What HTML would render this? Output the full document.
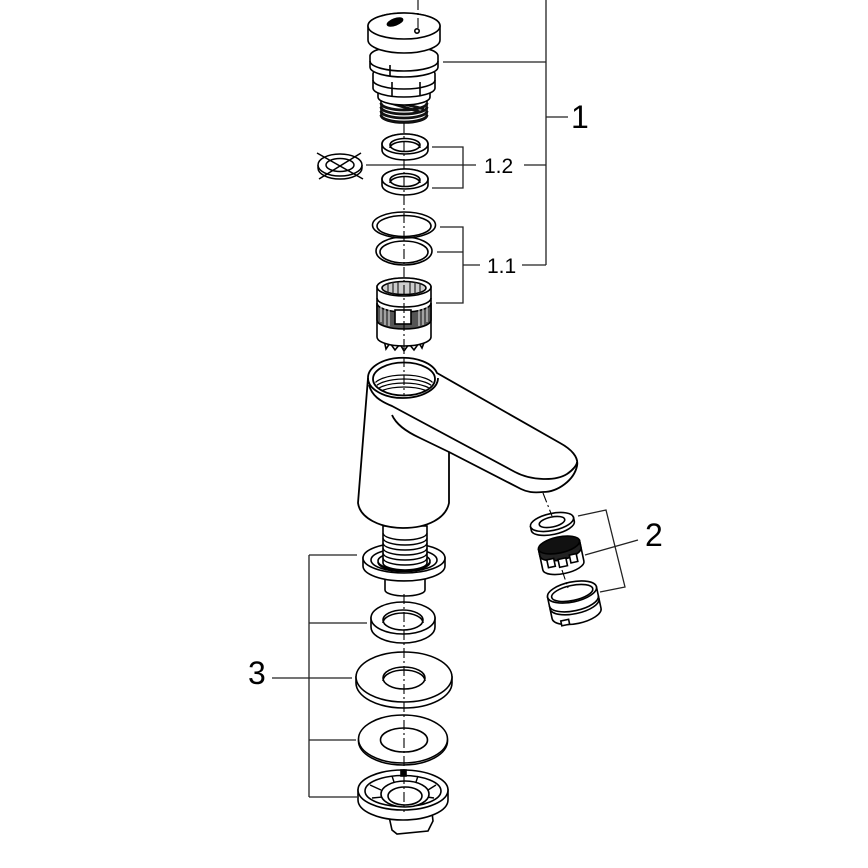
<!DOCTYPE html>
<html>
<head>
<meta charset="utf-8">
<style>
html,body{margin:0;padding:0;background:#fff;}
svg{display:block;}
text{font-family:"Liberation Sans",sans-serif;fill:#000;}
</style>
</head>
<body>
<svg width="868" height="868" viewBox="0 0 868 868" xmlns="http://www.w3.org/2000/svg">
<defs>
  <clipPath id="hole"><ellipse cx="404" cy="380" rx="29" ry="15"/></clipPath>
</defs>
<rect width="868" height="868" fill="#fff"/>

<!-- ============ LEADER LINES ============ -->
<g stroke="#222" stroke-width="1.3" fill="none">
  <line x1="443" y1="62" x2="546" y2="62"/>
  <line x1="546" y1="0" x2="546" y2="265"/>
  <line x1="546" y1="117" x2="568" y2="117"/>
  <polyline points="432,147 463,147 463,188 432,188"/>
  <line x1="366" y1="165" x2="476" y2="165"/>
  <line x1="524" y1="165" x2="546" y2="165"/>
  <polyline points="440,227 463,227 463,303 436,303"/>
  <line x1="437" y1="252" x2="463" y2="252"/>
  <line x1="463" y1="265" x2="480" y2="265"/>
  <line x1="522" y1="265" x2="546" y2="265"/>
  <polyline points="578,516 606,510 625,587 600,592"/>
  <line x1="585" y1="555" x2="638" y2="540"/>
  <line x1="309" y1="555" x2="309" y2="797"/>
  <line x1="309" y1="555" x2="357" y2="555"/>
  <line x1="309" y1="623" x2="367" y2="623"/>
  <line x1="272" y1="678" x2="352" y2="678"/>
  <line x1="309" y1="740" x2="356" y2="740"/>
  <line x1="309" y1="797" x2="357" y2="797"/>
</g>

<text x="571" y="128" font-size="32">1</text>
<text x="484" y="173" font-size="21">1.2</text>
<text x="487" y="273" font-size="21">1.1</text>
<text x="645" y="546" font-size="32">2</text>
<text x="248" y="684" font-size="32">3</text>

<!-- ============ CARTRIDGE ============ -->
<g stroke="#000" stroke-width="1.6" fill="#fff">
  <path d="M381,100 V116 A23,7 0 0 0 427,116 V100 A23,7 0 0 0 381,100 Z"/>
  <g fill="none" stroke="#111" stroke-width="2.8">
    <path d="M381,103 A23,7 0 0 0 427,103"/>
    <path d="M381,107 A23,7 0 0 0 427,107"/>
    <path d="M381,111 A23,7 0 0 0 427,111"/>
    <path d="M381,115 A23,7 0 0 0 427,115"/>
    <path d="M384,101 L420,112 M388,100 L424,109"/>
  </g>
  <path d="M378,90 V97 A26,8 0 0 0 430,97 V90 A26,8 0 0 0 378,90 Z"/>
  <path d="M373,74 V88 A31,9 0 0 0 435,88 V74 A31,9 0 0 0 373,74 Z"/>
  <path d="M373,80 A31,9 0 0 0 435,80" fill="none"/>
  <line x1="392" y1="82" x2="392" y2="96"/>
  <line x1="420" y1="82" x2="420" y2="96"/>
  <path d="M370,56 V67 A34,10 0 0 0 438,67 V56 A34,10 0 0 0 370,56 Z"/>
  <path d="M370,61 A34,10 0 0 0 438,61" fill="none"/>
  <line x1="390" y1="65" x2="390" y2="76"/>
  <path d="M368,26 V40 A36,13 0 0 0 440,40 V26 A36,13 0 0 0 368,26 Z"/>
  <ellipse cx="404" cy="26" rx="36" ry="13"/>
  <ellipse cx="395" cy="22" rx="8" ry="3" fill="#000" transform="rotate(-20 395 22)"/>
  <circle cx="417" cy="31" r="2.2"/>
</g>

<!-- ============ WASHERS 1.2 ============ -->
<g stroke="#000" stroke-width="1.6" fill="#fff">
  <path d="M382,144 V150 A23,10 0 0 0 428,150 V144 A23,10 0 0 0 382,144 Z"/>
  <ellipse cx="405" cy="144" rx="23" ry="10"/>
  <ellipse cx="405" cy="145" rx="15" ry="6.5"/>
  <path d="M390,148 A15,6.5 0 0 1 420,148" fill="none"/>

  <path d="M382,179 V185 A23,10 0 0 0 428,185 V179 A23,10 0 0 0 382,179 Z"/>
  <ellipse cx="405" cy="179" rx="23" ry="10"/>
  <ellipse cx="405" cy="180" rx="15" ry="6.5"/>
  <path d="M390,183 A15,6.5 0 0 1 420,183" fill="none"/>
</g>
<g stroke="#000" stroke-width="1.5" fill="none">
  <path d="M318,165 V168 A22,11 0 0 0 362,168 V165"/>
  <ellipse cx="340" cy="165" rx="22" ry="11" fill="#fff"/>
  <ellipse cx="340" cy="165" rx="14" ry="6.5"/>
  <line x1="317" y1="153" x2="363" y2="179"/>
  <line x1="361" y1="153" x2="319" y2="179"/>
</g>

<!-- ============ O-RINGS 1.1 ============ -->
<g stroke="#000" stroke-width="1.6" fill="none">
  <ellipse cx="404" cy="251" rx="28" ry="14"/>
  <ellipse cx="404" cy="252" rx="24" ry="11"/>
  <ellipse cx="404" cy="225" rx="31.5" ry="13"/>
  <ellipse cx="404" cy="226" rx="27" ry="10.5"/>
</g>

<!-- ============ SLEEVE ============ -->
<g stroke="#000" stroke-width="1.6" fill="#fff">
  <path d="M384,340 L386,349 L390,343 L395,350 L400,344 L404,351 L409,344 L414,350 L419,343 L422,348 L425,340 Z" fill="#fff"/>
  <path d="M377,287 V337 A27,9 0 0 0 431,337 V287 A27,9 0 0 0 377,287 Z"/>
  <path d="M377,303 A27,9 0 0 0 431,303 V320 A27,9 0 0 1 377,320 Z" fill="#555"/>
  <g stroke="#fff" stroke-width="0.9">
    <line x1="381" y1="306" x2="381" y2="322"/>
    <line x1="385" y1="308" x2="385" y2="325"/>
    <line x1="389" y1="309" x2="389" y2="326"/>
    <line x1="419" y1="309" x2="419" y2="326"/>
    <line x1="423" y1="308" x2="423" y2="325"/>
    <line x1="427" y1="306" x2="427" y2="322"/>
  </g>
  <rect x="395" y="310" width="16" height="14" fill="#fff"/>
  <path d="M377,298 A27,9 0 0 0 431,298" fill="none"/>
  <ellipse cx="404" cy="287" rx="27" ry="9"/>
  <ellipse cx="404" cy="288" rx="22" ry="6.5" fill="#ccc"/>
  <g stroke="#222" stroke-width="1.2">
    <line x1="388" y1="283" x2="388" y2="293"/>
    <line x1="393" y1="282" x2="393" y2="294"/>
    <line x1="398" y1="282" x2="398" y2="294"/>
    <line x1="410" y1="282" x2="410" y2="294"/>
    <line x1="415" y1="282" x2="415" y2="294"/>
    <line x1="420" y1="283" x2="420" y2="293"/>
  </g>
</g>

<!-- ============ THREAD STUB / FLANGE ============ -->
<g stroke="#000" stroke-width="1.6" fill="#fff">
  <path d="M385,578 V590 A20,6 0 0 0 425,590 V578 Z"/>
  <path d="M363,558 V566 A41,15 0 0 0 445,566 V558 Z"/>
  <ellipse cx="404" cy="558" rx="41" ry="15"/>
  <ellipse cx="404" cy="560" rx="33" ry="11.5"/>
  <ellipse cx="404" cy="561" rx="26" ry="9"/>
  <path d="M383,526 V563 A22,7 0 0 0 427,563 V526 Z"/>
  <g fill="none" stroke-width="1.4">
    <path d="M383,533 A22,7 0 0 0 427,533"/>
    <path d="M383,538 A22,7 0 0 0 427,538"/>
    <path d="M383,543 A22,7 0 0 0 427,543"/>
    <path d="M383,548 A22,7 0 0 0 427,548"/>
    <path d="M383,553 A22,7 0 0 0 427,553"/>
    <path d="M383,558 A22,7 0 0 0 427,558"/>
  </g>
  <path d="M378,562 A26,9 0 0 0 430,562" fill="none"/>
</g>

<!-- ============ FAUCET BODY ============ -->
<g stroke="#000" stroke-width="1.8" fill="#fff" stroke-linejoin="round">
  <path d="M368,378 A35,20 0 0 1 437,373 L560,443 C571,449 579,457 577,466 C574,480 558,492 543,492 C533,493 527,492 521,489 L449,452 L449,503 C446,518 428,528 403,528 C380,528 360,518 358,503 L363,440 Z"/>
  <path d="M368,378 A35,20 0 0 0 438,378" fill="none"/>
  <ellipse cx="404" cy="379" rx="31" ry="16.5"/>
  <g clip-path="url(#hole)" fill="none" stroke-width="1.3">
    <path d="M374,386 A30,11 0 0 1 434,386"/>
    <path d="M374,390 A30,11 0 0 1 434,390"/>
    <path d="M374,394 A30,11 0 0 1 434,394"/>
    <path d="M374,398 A30,11 0 0 1 434,398"/>
  </g>
  <path d="M369,385 C372,396 380,401 392,406 L515,472 C532,481 556,481 567,474 C573,470 577,465 577,462" fill="none"/>
  <path d="M449,452 L420,438 C405,431 396,424 392,415" fill="none"/>
</g>

<!-- ============ LOWER WASHERS & NUT ============ -->
<g stroke="#000" stroke-width="1.6" fill="#fff">
  <path d="M371,618 V627 A32,16 0 0 0 435,627 V618 Z"/>
  <ellipse cx="403" cy="618" rx="32" ry="16"/>
  <ellipse cx="403" cy="620" rx="20" ry="10"/>
  <path d="M383,623 A20,10 0 0 1 423,623" fill="none"/>
  <path d="M356,677 V683 A48,25 0 0 0 452,683 V677 Z"/>
  <ellipse cx="404" cy="677" rx="48" ry="25"/>
  <ellipse cx="404" cy="678" rx="21" ry="11"/>
  <path d="M383,681 A21,11 0 0 1 425,681" fill="none"/>
  <ellipse cx="403" cy="741" rx="44.5" ry="24"/>
  <ellipse cx="403" cy="739" rx="44.5" ry="24"/>
  <ellipse cx="404" cy="740" rx="23.5" ry="12"/>
  <polygon points="388,812 392,830 397,834 428,831 433,821 432,812"/>
  <path d="M358,790 V800 A45,20 0 0 0 448,800 V790 Z"/>
  <ellipse cx="403" cy="790" rx="45" ry="20"/>
  <ellipse cx="403" cy="791" rx="38" ry="15.5"/>
  <g stroke-width="1.4">
    <line x1="370" y1="785" x2="381" y2="790"/>
    <line x1="372" y1="798" x2="383" y2="797"/>
    <line x1="436" y1="785" x2="428" y2="790"/>
    <line x1="434" y1="798" x2="427" y2="797"/>
    <line x1="392" y1="776" x2="394" y2="782"/>
    <line x1="418" y1="776" x2="416" y2="782"/>
    <line x1="392" y1="806" x2="393" y2="802"/>
    <line x1="416" y1="806" x2="415" y2="802"/>
  </g>
  <ellipse cx="405" cy="794" rx="24" ry="13"/>
  <ellipse cx="405" cy="796" rx="17" ry="9"/>
  <rect x="401" y="770" width="5" height="6" fill="#000"/>
</g>

<!-- ============ AERATOR GROUP 2 ============ -->
<g stroke="#000" stroke-width="1.6" fill="#fff">
  <g transform="rotate(-12 572 592)">
    <path d="M547,592 V614 A25,10 0 0 0 597,614 V592 Z"/>
    <path d="M547,601 A25,10 0 0 0 597,601" fill="none"/>
    <path d="M547,604 A25,10 0 0 0 597,604" fill="none"/>
    <ellipse cx="572" cy="592" rx="25" ry="10"/>
    <ellipse cx="572" cy="593" rx="21" ry="7.5"/>
    <rect x="555" y="618" width="8" height="5"/>
  </g>
  <g transform="rotate(-12 559 545)">
    <path d="M538,545 V566 A21,8 0 0 0 580,566 V545 Z"/>
    <path d="M538,545 V552 A21,8 0 0 0 580,552 V545 Z" fill="#222"/>
    <ellipse cx="559" cy="545" rx="21" ry="8" fill="#111"/>
    <rect x="544" y="557" width="7" height="8"/>
    <rect x="555" y="559" width="8" height="8"/>
    <rect x="567" y="557" width="7" height="8"/>
  </g>
  <g transform="rotate(-12 552 522)">
    <path d="M530,522 V526 A22,8.5 0 0 0 574,526 V522 Z"/>
    <ellipse cx="552" cy="522" rx="22" ry="8.5"/>
    <ellipse cx="552" cy="522" rx="13" ry="5"/>
  </g>
</g>

<!-- ============ AXES ============ -->
<g stroke="#000" stroke-width="1.1" fill="none" stroke-dasharray="10 3 2 3">
  <line x1="418" y1="0" x2="418" y2="29"/>
  <line x1="404" y1="123" x2="404" y2="395"/>
  <line x1="404" y1="594" x2="404" y2="812"/>
  <line x1="543" y1="493" x2="552" y2="516"/>
  <line x1="562" y1="570" x2="568" y2="588"/>
</g>
</svg>
</body>
</html>
